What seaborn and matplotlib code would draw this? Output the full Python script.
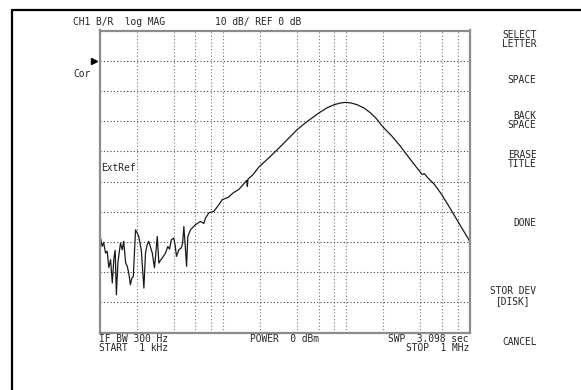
import numpy as np
import pandas as pd
import seaborn as sns
import matplotlib.pyplot as plt
from matplotlib.lines import Line2D
from matplotlib.ticker import NullLocator

# trace (kHz, dB)
freq_khz = [1.0, 1.02, 1.05, 1.08, 1.12, 1.155, 1.19, 1.23, 1.27, 1.31,
            1.34, 1.37, 1.41, 1.45, 1.48, 1.53, 1.57, 1.63, 1.68, 1.73,
            1.78, 1.83, 1.88, 1.96, 2.02, 2.08, 2.18, 2.29, 2.36, 2.43,
            2.51, 2.6, 2.68, 2.79, 2.86, 2.94, 3.03, 3.13, 3.23, 3.43,
            3.58, 3.7, 3.82, 4.0, 4.1, 4.21, 4.4, 4.6, 4.72, 4.83,
            4.95, 5.08, 5.2, 5.47, 6.0, 6.6, 7.0, 7.24, 7.7, 8.45,
            9.28, 9.89, 11.0, 12.2, 13.5, 15.0, 15.6, 15.8, 16.0, 17.5,
            19.6, 23.0, 27.6, 33.0, 40.1, 48.4, 60.1, 70.0, 79.5, 90.0,
            98.9, 110.0, 123.0, 140.0, 157.7, 176.0, 196.3, 235.0, 276.0, 333.0,
            375.0, 414.0, 430.0, 455.0, 520.0, 583.0, 660.0, 748.0, 860.0, 989.0,
            1000.0]
mag_db = [-58.0, -58.7, -61.5, -60.2, -63.7, -63.1, -68.5, -65.9, -73.6, -65.2,
          -62.8, -77.5, -66.9, -63.0, -60.4, -62.6, -59.8, -67.0, -68.1, -70.5,
          -74.2, -72.0, -71.4, -56.0, -57.0, -58.2, -62.6, -75.3, -63.7, -61.0,
          -59.8, -62.0, -63.7, -68.6, -64.0, -58.2, -67.0, -66.0, -65.3, -63.7,
          -61.5, -62.4, -59.3, -58.7, -61.0, -64.8, -62.6, -62.0, -60.5, -54.9,
          -61.0, -68.1, -58.2, -56.0, -54.3, -53.2, -53.9, -52.1, -50.4, -49.9,
          -47.7, -46.0, -45.3, -43.7, -42.6, -40.5, -39.6, -41.6, -39.2, -37.8,
          -35.2, -32.6, -29.5, -26.3, -22.8, -20.1, -17.3, -15.6, -14.6, -14.0,
          -13.8, -14.0, -14.6, -15.7, -17.3, -19.2, -21.7, -25.0, -28.4, -32.8,
          -35.5, -37.7, -37.4, -38.6, -41.0, -43.8, -47.3, -51.0, -55.2, -59.3,
          -59.8]

grid_khz = [2, 4, 6, 8, 10, 20, 40, 60, 80, 100, 200, 400, 600, 800]
grid_db = [0, -10, -20, -30, -40, -50, -60, -70, -80]

header = ["CH1 B/R  log MAG", "10 dB/ REF 0 dB"]
footer_left = "IF BW 300 Hz\nSTART  1 kHz"
footer_mid = "POWER  0 dBm"
footer_right = "SWP  3.098 sec\nSTOP  1 MHz"
softkeys = [("SELECT\nLETTER", 39.5, "right"), ("SPACE", 80, "right"),
            ("BACK\nSPACE", 120.5, "right"), ("ERASE\nTITLE", 159.5, "right"),
            ("DONE", 223.5, "right"), ("STOR DEV\n[DISK]", 296, "center"),
            ("CANCEL", 341.7, "right")]

df = pd.DataFrame({"freq": freq_khz, "mag": mag_db})

sns.set_style("white")
plt.rcParams['font.family'] = ['DejaVu Sans Mono']
plt.rcParams['font.size'] = 6.9

W, H = 581, 390
fig = plt.figure(figsize=(W / 100, H / 100), dpi=100)


def fx(x):
    return x / W


def fy(y):
    return 1 - y / H


ax = fig.add_axes([fx(99.5), fy(332.5), (469.5 - 99.5) / W, (332.5 - 30.5) / H])
sns.lineplot(data=df, x="freq", y="mag", ax=ax, color="#1a1a1a", linewidth=0.9,
             sort=False, estimator=None)
ax.set_xscale("log")
ax.set_xlim(1, 1000)
ax.set_ylim(-90, 10)
ax.set_xticks(grid_khz)
ax.set_yticks(grid_db)
ax.xaxis.set_minor_locator(NullLocator())
ax.tick_params(length=0, labelbottom=False, labelleft=False)
ax.set_xlabel("")
ax.set_ylabel("")
ax.grid(True, axis="x", color="#777777", linestyle=(0, (1, 2)), linewidth=0.8)
ax.grid(True, axis="y", color="#444444", linestyle=(0, (1, 2)), linewidth=0.8)
for s in ax.spines.values():
    s.set_color("#8c8c8c")
    s.set_linewidth(1.6)

# reference level marker
ax.plot([-0.014], [0], marker=">", color="black", markersize=4,
        transform=ax.get_yaxis_transform(), clip_on=False)

# outer screen frame
fig.add_artist(Line2D([fx(11.5), fx(11.5)], [fy(10), 0], color="black", linewidth=1.6))
fig.add_artist(Line2D([fx(11.5), 1], [fy(10), fy(10)], color="black", linewidth=1.6))

fig.text(fx(73), fy(22), header[0], va="center", ha="left")
fig.text(fx(215), fy(22), header[1], va="center", ha="left")
fig.text(fx(73), fy(74), "Cor", va="center", ha="left")
fig.text(fx(101), fy(168), "ExtRef", va="center", ha="left")

fig.text(fx(99), fy(343.5), footer_left, va="center", ha="left", linespacing=0.95)
fig.text(fx(250), fy(339.5), footer_mid, va="center", ha="left")
fig.text(fx(469), fy(343.5), footer_right, va="center", ha="right",
         multialignment="right", linespacing=0.95)

for label, y, align in softkeys:
    fig.text(fx(536.5), fy(y), label, va="center", ha="right",
             multialignment=align, linespacing=0.95)

fig.savefig("out.png", dpi=100, facecolor="white")
